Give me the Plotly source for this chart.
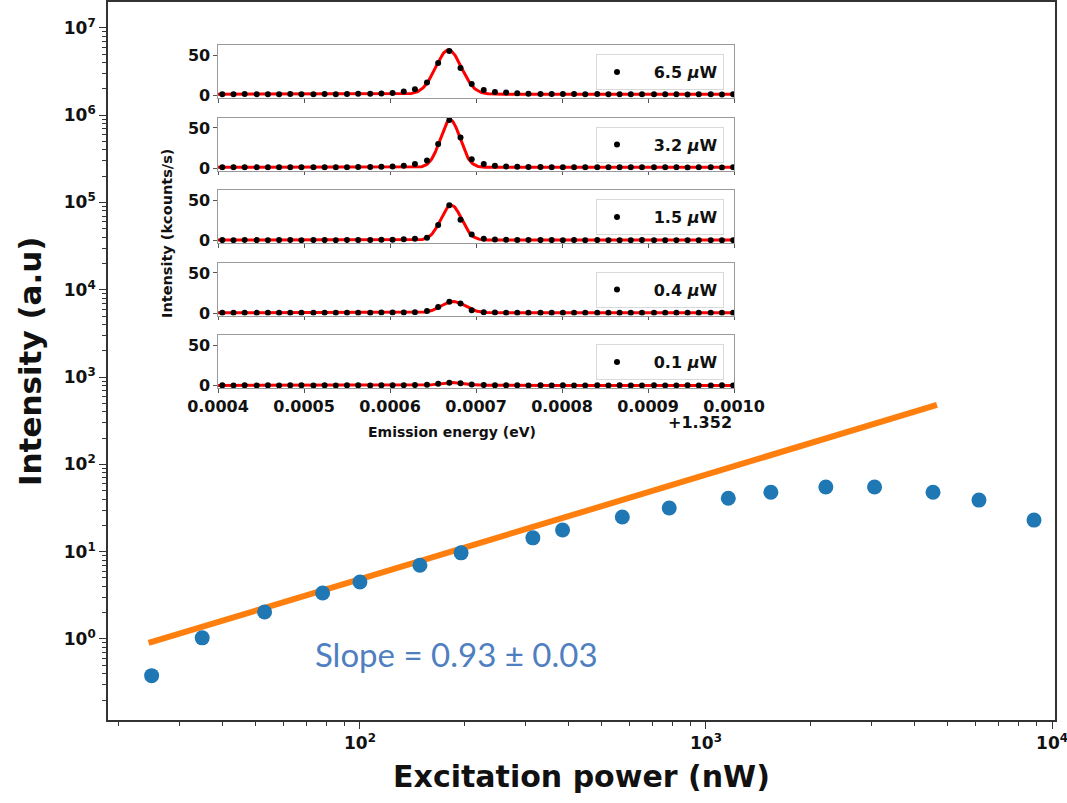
import numpy as np
import plotly.graph_objects as go

# ---------------- main power-dependence data ----------------
power_nw = [25, 35, 53, 78, 100, 149, 196, 316, 385, 573, 783,
            1160, 1540, 2220, 3070, 4530, 6150, 8870]
intensity_au = [0.38, 1.03, 2.04, 3.37, 4.5, 7.0, 9.7, 14.4, 17.7, 25.0, 31.7,
                41.0, 48.0, 55.0, 55.0, 48.0, 39.0, 23.0]

# linear-regime power-law fit (end points of the drawn fit line)
fit_power_nw = [24.5, 4650]
fit_intensity_au = [0.9, 480]
slope_text = "Slope = 0.93 ± 0.03"

# ---------------- inset spectra ----------------
energy_offset = 1.352  # eV
energy_ev = [0.000405, 0.000418, 0.000431, 0.000445, 0.000458, 0.000471, 0.000484,
             0.000497, 0.000511, 0.000524, 0.000537, 0.000550, 0.000563, 0.000577,
             0.000590, 0.000603, 0.000616, 0.000629, 0.000643, 0.000656, 0.000669,
             0.000682, 0.000695, 0.000709, 0.000722, 0.000735, 0.000748, 0.000761,
             0.000775, 0.000788, 0.000801, 0.000814, 0.000827, 0.000841, 0.000854,
             0.000867, 0.000880, 0.000893, 0.000907, 0.000920, 0.000933, 0.000946,
             0.000959, 0.000973, 0.000986, 0.000999]

spec_6p5 = [1.8, 1.6, 1.9, 1.7, 1.8, 1.6, 1.9, 1.8, 1.7, 2.0, 1.8, 2.1, 2.2, 2.4,
            2.6, 3.3, 5.0, 8.0, 16.4, 40.5, 55.5, 34.5, 14.5, 7.0, 4.6, 3.8, 2.9, 2.3,
            2.1, 2.0, 1.9, 2.0, 1.8, 1.9, 1.7, 1.8, 1.6, 1.7, 1.8, 1.6, 1.7, 1.5,
            1.6, 1.7, 1.5, 1.6]
spec_3p2 = [1.2, 1.0, 1.1, 0.9, 1.0, 1.2, 1.0, 1.1, 0.9, 1.0, 1.1, 1.2, 1.3, 1.5,
            1.8, 2.1, 2.9, 5.0, 9.5, 30.0, 60.0, 38.0, 11.0, 5.0, 2.9, 2.1, 1.8, 1.5,
            1.3, 1.2, 1.1, 1.0, 1.1, 0.9, 1.0, 1.0, 0.9, 1.1, 1.0, 0.9, 1.0, 0.8,
            0.9, 1.0, 0.8, 0.9]
spec_1p5 = [0.6, 0.5, 0.7, 0.6, 0.5, 0.6, 0.7, 0.5, 0.6, 0.6, 0.5, 0.7, 0.6, 0.8,
            0.9, 1.1, 1.6, 2.2, 3.5, 19.5, 44.0, 26.0, 7.5, 2.2, 1.3, 1.0,
            0.8, 0.7, 0.6, 0.6, 0.5, 0.6, 0.5, 0.6, 0.5, 0.4, 0.5, 0.6, 0.5, 0.4,
            0.5, 0.5, 0.4, 0.5, 0.4, 0.5]
spec_0p4 = [0.4, 0.5, 0.4, 0.3, 0.5, 0.4, 0.4, 0.3, 0.5, 0.4, 0.4, 0.5, 0.4, 0.5,
            0.6, 0.7, 0.8, 1.0, 2.5, 7.5, 14.0, 12.0, 3.5, 1.0,
            0.7, 0.5, 0.4, 0.5, 0.4, 0.3, 0.4, 0.5, 0.4, 0.3, 0.4, 0.4, 0.3, 0.4,
            0.5, 0.3, 0.4, 0.3, 0.4, 0.3, 0.4, 0.3]
spec_0p1 = [0.3, 0.2, 0.3, 0.2, 0.3, 0.2, 0.3, 0.3, 0.2, 0.3, 0.2, 0.3, 0.3, 0.2,
            0.3, 0.4, 0.5, 0.6, 1.0, 2.2, 3.6, 3.0, 1.4, 0.6,
            0.4, 0.3, 0.3, 0.2, 0.3, 0.2, 0.3, 0.2, 0.2, 0.3, 0.2, 0.3, 0.2, 0.2,
            0.3, 0.2, 0.2, 0.3, 0.2, 0.2, 0.3, 0.2]

spectra = [spec_6p5, spec_3p2, spec_1p5, spec_0p4, spec_0p1]
NB = "\u00a0"
spectrum_labels = [NB * 3 + s + " <i>μ</i>W" for s in ["6.5", "3.2", "1.5", "0.4", "0.1"]]

# Gaussian fit parameters: amplitude, centre (eV), sigma (eV), background
gauss_amp = [55.0, 59.0, 43.5, 14.0, 3.5]
gauss_center = [0.000668, 0.000670, 0.0006712, 0.0006735, 0.000672]
gauss_sigma = [1.5e-5, 1.15e-5, 1.2e-5, 1.4e-5, 1.4e-5]
gauss_bg = [1.8, 1.0, 0.6, 0.4, 0.25]

inset_xticks = [0.0004, 0.0005, 0.0006, 0.0007, 0.0008, 0.0009, 0.0010]
inset_xticktext = ["0.0004", "0.0005", "0.0006", "0.0007", "0.0008", "0.0009", "0.0010"]

# ---------------- figure geometry ----------------
W, H = 1067, 803
ML, MR, MT, MB = 108, 12, 2, 83
PW, PH = W - ML - MR, H - MT - MB


def px_x(px):
    return (px - ML) / PW


def px_y(py):
    return (H - MB - py) / PH


FONT = "DejaVu Sans"
fig = go.Figure()

# main data
fig.add_trace(go.Scatter(
    x=fit_power_nw, y=fit_intensity_au, mode="lines",
    line=dict(color="#ff7f0e", width=6), showlegend=False, hoverinfo="skip"))
fig.add_trace(go.Scatter(
    x=power_nw, y=intensity_au, mode="markers",
    marker=dict(color="#1f77b4", size=15, line=dict(width=0)), showlegend=False))

# inset panels
inset_left, inset_right = 218, 734
panel_top0, panel_h, panel_step = 45, 53, 72.5
fine_e = np.linspace(0.0004, 0.0010, 600)
legend_names = ["legend", "legend2", "legend3", "legend4", "legend5"]

layout_extra = {}
for i in range(5):
    k = i + 2
    xa, ya = f"x{k}", f"y{k}"
    top = panel_top0 + i * panel_step
    bot = top + panel_h
    fit_curve = gauss_bg[i] + gauss_amp[i] * np.exp(
        -((fine_e - gauss_center[i]) ** 2) / (2 * gauss_sigma[i] ** 2))
    fig.add_trace(go.Scatter(
        x=fine_e, y=fit_curve, mode="lines", xaxis=xa, yaxis=ya,
        line=dict(color="#ff0000", width=3), showlegend=False, hoverinfo="skip"))
    fig.add_trace(go.Scatter(
        x=energy_ev, y=spectra[i], mode="markers", xaxis=xa, yaxis=ya,
        marker=dict(color="black", size=6), name=spectrum_labels[i],
        legend=legend_names[i], showlegend=True))

    layout_extra[f"xaxis{k}"] = dict(
        domain=[px_x(inset_left), px_x(inset_right)], anchor=ya,
        range=[0.0004, 0.0010], tickvals=inset_xticks, ticktext=inset_xticktext,
        showticklabels=(i == 4), ticks="outside", ticklen=3.5, tickwidth=1,
        tickcolor="#555", showline=True, mirror=True, linecolor="#9a9a9a",
        linewidth=1.2, showgrid=False, zeroline=False, automargin=False,
        ticklabeloverflow="allow",
        tickfont=dict(family=FONT, size=16, color="#111", weight="bold"))
    layout_extra[f"yaxis{k}"] = dict(
        domain=[px_y(bot), px_y(top)], anchor=xa, range=[-3, 63],
        tickvals=[0, 50], ticks="outside", ticklen=3.5, tickwidth=1,
        tickcolor="#555", showline=True, mirror=True, linecolor="#9a9a9a",
        linewidth=1.2, showgrid=False, zeroline=False, automargin=False,
        ticklabeloverflow="allow",
        tickfont=dict(family=FONT, size=16, color="#111", weight="bold"))
    layout_extra[legend_names[i]] = dict(
        x=px_x(596), y=px_y(top + 9), xanchor="left", yanchor="top",
        bgcolor="white", bordercolor="#d9d9d9", borderwidth=1,
        font=dict(family=FONT, size=16, color="#111", weight="bold"),
        itemwidth=30, tracegroupgap=0)

decades = [0.1, 1, 10, 100, 1e3, 1e4, 1e5, 1e6, 1e7]
y_minor = [m * d for d in decades for m in range(2, 10)]
x_minor = [m * d for d in [10, 100, 1000] for m in range(2, 10)]

fig.update_layout(
    width=W, height=H,
    margin=dict(l=ML, r=MR, t=MT, b=MB, autoexpand=False),
    paper_bgcolor="white", plot_bgcolor="white",
    xaxis=dict(
        type="log", range=[np.log10(18.7), np.log10(10200)],
        tickvals=[100, 1000, 10000],
        ticktext=["10<sup>2</sup>", "10<sup>3</sup>", "10<sup>4</sup>"],
        ticks="outside", ticklen=7, tickwidth=1.4, tickcolor="#333",
        minor=dict(tickvals=x_minor, ticks="outside", ticklen=4, tickwidth=1,
                   tickcolor="#333"),
        showline=True, mirror=True, linecolor="#333", linewidth=1.8,
        showgrid=False, zeroline=False, automargin=False,
        ticklabeloverflow="allow",
        tickfont=dict(family=FONT, size=17, color="#111", weight="bold"),
        title=dict(text="Excitation power (nW)", standoff=14,
                   font=dict(family=FONT, size=30, color="#111", weight="bold"))),
    yaxis=dict(
        type="log", range=[-0.928, 7.297],
        tickvals=[1, 10, 100, 1e3, 1e4, 1e5, 1e6, 1e7],
        ticktext=[f"10<sup>{p}</sup>" for p in range(8)],
        ticks="outside", ticklen=7, tickwidth=1.4, tickcolor="#333",
        minor=dict(tickvals=y_minor, ticks="outside", ticklen=4, tickwidth=1,
                   tickcolor="#333"),
        showline=True, mirror=True, linecolor="#333", linewidth=1.8,
        showgrid=False, zeroline=False, automargin=False,
        ticklabeloverflow="allow",
        tickfont=dict(family=FONT, size=17, color="#111", weight="bold")),
    **layout_extra,
)

annotations = [
    dict(text="Intensity (a.u)", x=px_x(30), y=px_y(361), xref="paper", yref="paper",
         showarrow=False, textangle=-90, xanchor="center", yanchor="middle",
         font=dict(family=FONT, size=31, color="#111", weight="bold")),
    dict(text=slope_text, x=px_x(456), y=px_y(654), xref="paper", yref="paper",
         showarrow=False, xanchor="center", yanchor="middle",
         font=dict(family="Lato", size=33, color="#4f7fc0")),
    dict(text="Intensity (kcounts/s)", x=px_x(167), y=px_y(234),
         xref="paper", yref="paper", showarrow=False, textangle=-90,
         xanchor="center", yanchor="middle",
         font=dict(family=FONT, size=14.5, color="#111", weight="bold")),
    dict(text="Emission energy (eV)", x=px_x(452), y=px_y(432),
         xref="paper", yref="paper", showarrow=False,
         xanchor="center", yanchor="middle",
         font=dict(family=FONT, size=14, color="#111", weight="bold")),
    dict(text="+1.352", x=px_x(734), y=px_y(422), xref="paper", yref="paper",
         showarrow=False, xanchor="right", yanchor="middle",
         font=dict(family=FONT, size=16, color="#111", weight="bold")),
]
fig.update_layout(annotations=annotations)

fig.write_html("out.html")
